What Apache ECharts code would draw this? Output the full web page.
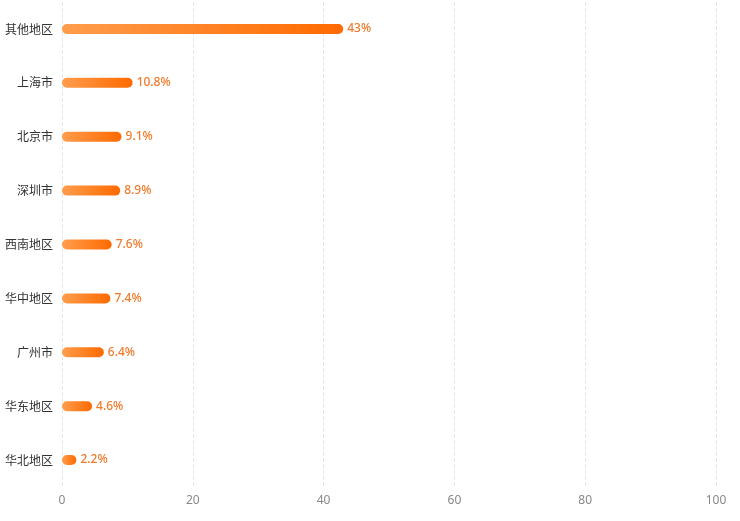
<!DOCTYPE html>
<html>
<head>
<meta charset="utf-8">
<script src="https://cdn.jsdelivr.net/npm/echarts@6/dist/echarts.min.js"></script>
<style>
html,body{margin:0;padding:0;background:#fff;}
#chart{width:740px;height:521px;}
</style>
</head>
<body>
<div id="chart"></div>
<script>
// Regional share, top to bottom
const regions = ['其他地区', '上海市', '北京市', '深圳市', '西南地区', '华中地区', '广州市', '华东地区', '华北地区'];
const shares = [43, 10.8, 9.1, 8.9, 7.6, 7.4, 6.4, 4.6, 2.2];
const shareLabels = ['43%', '10.8%', '9.1%', '8.9%', '7.6%', '7.4%', '6.4%', '4.6%', '2.2%'];

const chart = echarts.init(document.getElementById('chart'));
chart.setOption({
  animation: false,
  grid: { left: 62, right: 24, top: 2, bottom: 34, containLabel: false },
  xAxis: {
    type: 'value',
    min: 0,
    max: 100,
    interval: 20,
    axisLine: { show: false },
    axisTick: { show: false },
    axisLabel: { color: '#888', fontSize: 12, margin: 8, fontFamily: 'Noto Sans' },
    splitLine: { show: true, lineStyle: { type: 'dashed', color: '#e6e6e6' } }
  },
  yAxis: {
    type: 'category',
    inverse: true,
    data: regions,
    axisLine: { show: false },
    axisTick: { show: false },
    axisLabel: { color: '#333', fontSize: 12, margin: 9, fontFamily: 'Noto Sans CJK SC' }
  },
  series: [{
    type: 'bar',
    data: shares,
    barWidth: 10,
    itemStyle: {
      borderRadius: 5,
      color: new echarts.graphic.LinearGradient(0, 0, 1, 0, [
        { offset: 0, color: '#FF9D4D' },
        { offset: 1, color: '#FF6A00' }
      ])
    },
    label: {
      show: true,
      position: 'right',
      distance: 4,
      color: '#F07A2A',
      fontSize: 12,
      fontWeight: 500,
      fontFamily: 'Noto Sans',
      formatter: p => shareLabels[p.dataIndex]
    }
  }]
});
</script>
</body>
</html>
